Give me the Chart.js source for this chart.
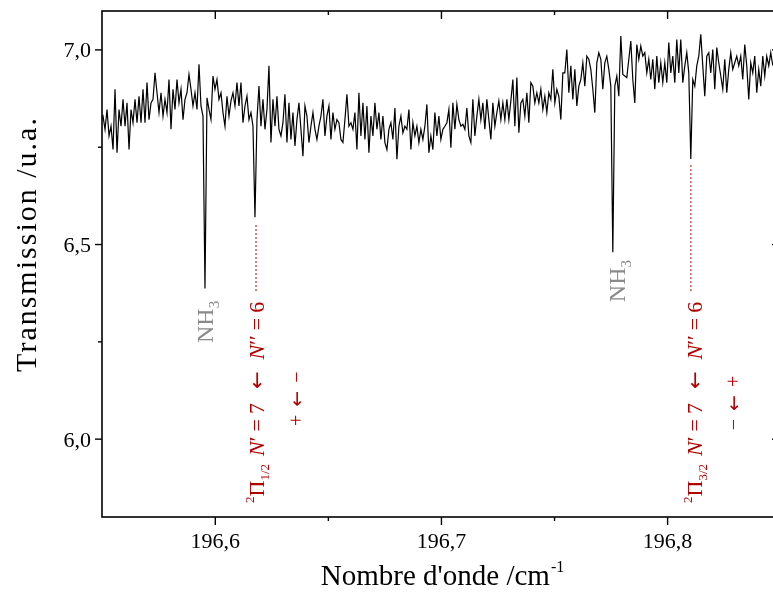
<!DOCTYPE html>
<html lang="fr">
<head>
<meta charset="UTF-8">
<title>Transmission</title>
<script src="https://cdn.jsdelivr.net/npm/chart.js"></script>
<style>
    html, body {
        margin: 0;
        padding: 0;
        background: #fff;
        overflow: hidden;
    }
    #wrap {
        width: 800px;
        height: 593px;
    }
</style>
</head>
<body>
<div id="wrap"><canvas id="spectrum" width="800" height="593"></canvas></div>
<script>
    // spectrum, roughly one sample every 2 px
    const firstWavenumber = 196.54947;   // cm-1
    const sampleStep = 0.000884;         // cm-1 between samples
    const transmission = [
        6.820,
        6.830, 6.796, 6.847, 6.779, 6.804, 6.744, 6.899, 6.736, 6.847, 6.804,
        6.873, 6.804, 6.864, 6.744, 6.847, 6.813, 6.873, 6.813, 6.881, 6.813,
        6.899, 6.813, 6.916, 6.821, 6.864, 6.873, 6.941, 6.890, 6.839, 6.890,
        6.830, 6.873, 6.839, 6.924, 6.796, 6.899, 6.847, 6.924, 6.864, 6.899,
        6.821, 6.873, 6.890, 6.937, 6.899, 6.856, 6.890, 6.847, 6.963, 6.856,
        6.830, 6.387,
        6.877, 6.847, 6.821, 6.933, 6.899, 6.924, 6.873, 6.890, 6.839, 6.804,
        6.881, 6.830, 6.869, 6.890, 6.856, 6.916, 6.856, 6.916, 6.813, 6.856,
        6.881, 6.821, 6.839, 6.804,
        6.570,
        6.821, 6.907, 6.804, 6.873, 6.796, 6.847, 6.959, 6.762, 6.873,
        6.804, 6.881, 6.796, 6.779, 6.813, 6.886, 6.762, 6.864, 6.770, 6.839,
        6.753, 6.821, 6.864, 6.796, 6.727, 6.856, 6.830, 6.762, 6.804, 6.839,
        6.796, 6.770, 6.804, 6.830, 6.873, 6.779, 6.830, 6.856, 6.770, 6.839,
        6.796, 6.821, 6.813, 6.770, 6.762, 6.821, 6.886, 6.804, 6.813, 6.796,
        6.839, 6.744, 6.890, 6.779, 6.864, 6.770, 6.856, 6.736, 6.830, 6.779,
        6.864, 6.796, 6.839, 6.770, 6.830, 6.762, 6.744, 6.796, 6.813, 6.770,
        6.851, 6.719, 6.804, 6.830, 6.787, 6.804, 6.796, 6.847, 6.744, 6.813,
        6.779, 6.804, 6.762, 6.796, 6.770, 6.804, 6.860, 6.736, 6.779, 6.744,
        6.839, 6.779, 6.830, 6.770, 6.796, 6.804, 6.813, 6.847,
        6.749, 6.864, 6.796, 6.860, 6.821, 6.804, 6.809, 6.796, 6.851, 6.779,
        6.762, 6.873, 6.779, 6.830, 6.873, 6.821, 6.864, 6.796, 6.873, 6.821,
        6.770, 6.864, 6.804, 6.839, 6.869, 6.821, 6.864, 6.821, 6.873, 6.821,
        6.869, 6.924, 6.804, 6.929, 6.787, 6.864, 6.873, 6.830, 6.890, 6.813,
        6.916, 6.907, 6.864, 6.890, 6.864, 6.899, 6.847, 6.881, 6.839, 6.890,
        6.873, 6.950, 6.864, 6.899, 6.881, 6.821, 6.941, 6.941, 7.001, 6.890,
        6.959, 6.873, 6.950, 6.856, 6.907, 6.924, 6.967, 6.907, 6.984, 6.976,
        6.950, 6.899, 6.839, 6.967, 6.993, 6.976, 6.899, 6.967, 6.984, 6.950,
        6.907,
        6.480,
        6.907, 6.933, 6.881, 7.036, 6.937, 6.933, 6.929, 6.976, 7.023, 6.924,
        6.864, 7.014, 6.976, 7.010, 6.984, 6.993, 6.941, 6.976, 6.924, 6.976,
        6.899, 6.984, 6.916, 6.967, 6.916, 6.967, 6.916, 7.019, 6.941, 6.984,
        6.916, 7.027, 6.941, 7.027, 6.916, 6.959, 6.993, 6.941,
        6.720,
        6.924, 6.907, 6.959, 6.984, 7.040, 6.959, 6.881, 6.984, 6.993, 6.941,
        7.001, 6.899, 7.006, 6.967, 6.933, 6.899, 6.976, 6.890, 6.950, 6.993,
        6.950, 6.967, 6.984, 6.959, 6.984, 6.924, 7.014, 6.959, 6.873, 6.967,
        6.941, 6.984, 6.890, 6.950, 6.907, 6.984, 6.933, 6.984, 6.959, 6.993,
        6.960
    ];

    const xRange = [196.5499, 196.8497];
    const yRange = [5.8, 7.1];
    const xMajorTicks = [196.6, 196.7, 196.8];
    const xMinorTicks = [196.65, 196.75];
    const yMajorTicks = [6.0, 6.5, 7.0];
    const yMinorTicks = [6.25, 6.75];

    // dotted markers below the two OH lines: [wavenumber, from, to]
    const markerLines = [
        [196.6180, 6.550, 6.378],
        [196.8103, 6.704, 6.378]
    ];
    // NH3 labels: [wavenumber, transmission] of the text start
    const nh3Labels = [[196.5990, 6.247], [196.7811, 6.352]];
    // transition labels
    const lineLabels = [
        { at: [196.6215, 5.836], omega: '1/2' },
        { at: [196.8152, 5.836], omega: '3/2' }
    ];
    const parityLabels = [
        { at: [196.6386, 6.034], text: ['+', '←', '−'] },
        { at: [196.8320, 6.023], text: ['−', '←', '+'] }
    ];

    const serif = '"Liberation Serif", "DejaVu Serif", serif';
    const arrowFont = '"DejaVu Sans", sans-serif';
    const red = '#b00000';
    const grey = '#8a8a8a';

    function comma(v) {
        return v.toFixed(1).replace('.', ',');
    }

    // draws text pieces one after the other, turned to read bottom to top
    function drawRuns(ctx, px, py, runs, color) {
        ctx.save();
        ctx.translate(px, py);
        ctx.rotate(-Math.PI / 2);
        ctx.fillStyle = color;
        ctx.textAlign = 'left';
        ctx.textBaseline = 'alphabetic';
        let pos = 0;
        for (const r of runs) {
            ctx.font = r.font;
            ctx.fillText(r.text, pos, r.dy || 0);
            pos += ctx.measureText(r.text).width + (r.gap || 0);
        }
        ctx.restore();
    }

    const framePlugin = {
        id: 'frame',
        afterDatasetsDraw(chart) {
            const { ctx, chartArea: a } = chart;
            const xs = chart.scales.x, ys = chart.scales.y;
            ctx.save();
            ctx.strokeStyle = '#000';
            ctx.lineWidth = 1.6;
            ctx.strokeRect(a.left, a.top, a.right - a.left, a.bottom - a.top);

            ctx.lineWidth = 1.4;
            const seg = (x1, y1, x2, y2) => {
                ctx.beginPath();
                ctx.moveTo(x1, y1);
                ctx.lineTo(x2, y2);
                ctx.stroke();
            };
            xMajorTicks.forEach(v => {
                const p = xs.getPixelForValue(v);
                seg(p, a.bottom, p, a.bottom + 8);
                seg(p, a.top, p, a.top + 8);
            });
            xMinorTicks.forEach(v => {
                const p = xs.getPixelForValue(v);
                seg(p, a.bottom, p, a.bottom + 4);
                seg(p, a.top, p, a.top + 4);
            });
            yMajorTicks.forEach(v => {
                const p = ys.getPixelForValue(v);
                seg(a.left - 7, p, a.left, p);
                seg(a.right - 8, p, a.right, p);
            });
            yMinorTicks.forEach(v => {
                const p = ys.getPixelForValue(v);
                seg(a.left - 4, p, a.left, p);
                seg(a.right - 4, p, a.right, p);
            });

            // tick labels
            ctx.fillStyle = '#000';
            ctx.font = '22px ' + serif;
            ctx.textBaseline = 'alphabetic';
            ctx.textAlign = 'center';
            xMajorTicks.forEach(v => {
                ctx.fillText(comma(v), xs.getPixelForValue(v), a.bottom + 31);
            });
            ctx.textAlign = 'right';
            yMajorTicks.forEach(v => {
                ctx.fillText(comma(v), a.left - 11, ys.getPixelForValue(v) + 7.5);
            });

            // axis titles
            ctx.save();
            ctx.font = '30px ' + serif;
            ctx.letterSpacing = '2px';
            ctx.translate(36, 244);
            ctx.rotate(-Math.PI / 2);
            ctx.textAlign = 'center';
            ctx.fillText('Transmission /u.a.', 0, 0);
            ctx.restore();

            const main = "Nombre d'onde /cm";
            const sup = '-1';
            ctx.font = '29px ' + serif;
            const w1 = ctx.measureText(main).width;
            ctx.font = '16px ' + serif;
            const w2 = ctx.measureText(sup).width;
            const startX = 442 - (w1 + w2) / 2;
            ctx.textAlign = 'left';
            ctx.font = '29px ' + serif;
            ctx.fillText(main, startX, a.bottom + 68);
            ctx.font = '16px ' + serif;
            ctx.fillText(sup, startX + w1 + 1, a.bottom + 55);

            // annotations
            nh3Labels.forEach(([w, t]) => {
                drawRuns(ctx, xs.getPixelForValue(w), ys.getPixelForValue(t), [
                    { text: 'NH', font: '24px ' + serif },
                    { text: '3', font: '15px ' + serif, dy: 6 }
                ], grey);
            });
            const it = 'italic 22px ' + serif;
            const rm = '22px ' + serif;
            lineLabels.forEach(l => {
                drawRuns(ctx, xs.getPixelForValue(l.at[0]), ys.getPixelForValue(l.at[1]), [
                    { text: '2', font: '13px ' + serif, dy: -10 },
                    { text: 'Π', font: rm },
                    { text: l.omega, font: '13px ' + serif, dy: 5, gap: 8 },
                    { text: 'N', font: it },
                    { text: '′', font: rm, gap: 5 },
                    { text: '=', font: rm, gap: 5 },
                    { text: '7', font: rm, gap: 14 },
                    { text: '←', font: '21px ' + arrowFont, gap: 12 },
                    { text: 'N', font: it },
                    { text: '′′', font: rm, gap: 5 },
                    { text: '=', font: rm, gap: 5 },
                    { text: '6', font: rm }
                ], red);
            });
            parityLabels.forEach(p => {
                drawRuns(ctx, xs.getPixelForValue(p.at[0]), ys.getPixelForValue(p.at[1]), [
                    { text: p.text[0], font: '20px ' + serif, gap: 8 },
                    { text: p.text[1], font: '19px ' + arrowFont, gap: 8 },
                    { text: p.text[2], font: '20px ' + serif }
                ], red);
            });
            ctx.restore();
        }
    };

    const datasets = [{
        data: transmission.map((v, i) => ({ x: firstWavenumber + i * sampleStep, y: v })),
        borderColor: '#000',
        borderWidth: 1.2,
        pointRadius: 0,
        tension: 0
    }];
    markerLines.forEach(([w, from, to]) => {
        datasets.push({
            data: [{ x: w, y: from }, { x: w, y: to }],
            borderColor: red,
            borderWidth: 1,
            borderDash: [2, 2],
            pointRadius: 0
        });
    });

    new Chart(document.getElementById('spectrum'), {
        type: 'line',
        data: { datasets },
        options: {
            responsive: false,
            animation: false,
            devicePixelRatio: 1,
            layout: { padding: { left: 10, top: 11, right: 20, bottom: 0 } },
            plugins: { legend: { display: false }, tooltip: { enabled: false } },
            scales: {
                x: {
                    type: 'linear',
                    min: xRange[0],
                    max: xRange[1],
                    ticks: { display: false },
                    grid: { display: false, drawTicks: false },
                    border: { display: false },
                    afterFit: s => { s.height = 76; }
                },
                y: {
                    type: 'linear',
                    min: yRange[0],
                    max: yRange[1],
                    ticks: { display: false },
                    grid: { display: false, drawTicks: false },
                    border: { display: false },
                    afterFit: s => { s.width = 92; }
                }
            }
        },
        plugins: [framePlugin]
    });
</script>
</body>
</html>
